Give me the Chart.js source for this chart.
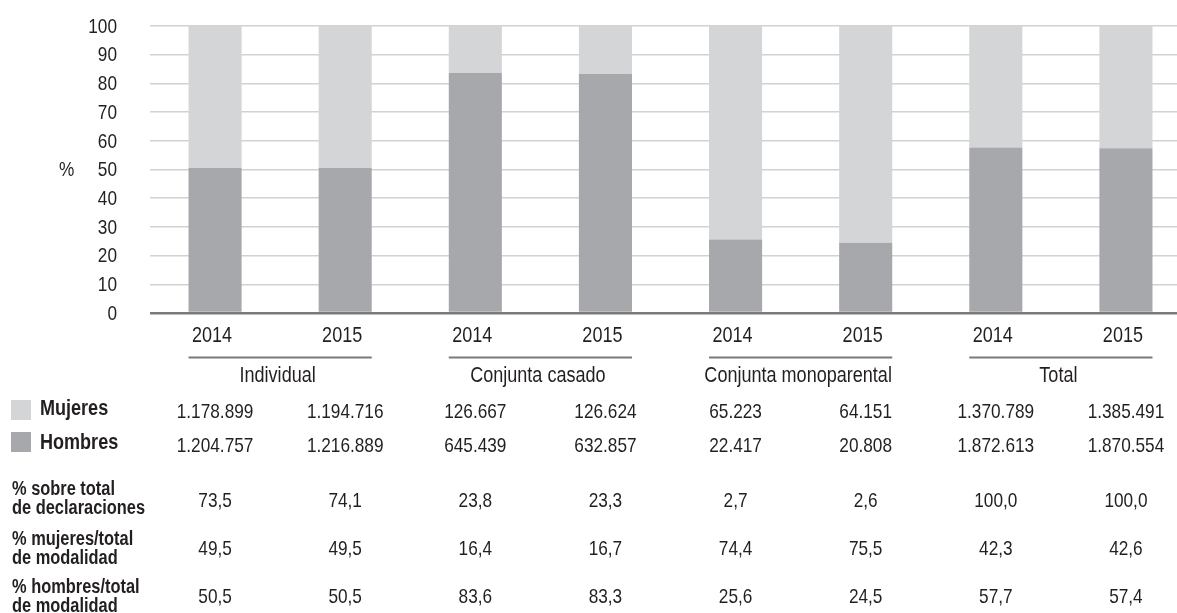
<!DOCTYPE html>
<html>
<head>
<meta charset="utf-8">
<script src="https://cdn.jsdelivr.net/npm/chart.js@4/dist/chart.umd.min.js"></script>
<style>
  html, body { margin: 0; padding: 0; background: #fff; overflow: hidden; }
  #wrap { position: relative; width: 1191px; height: 613px; }
</style>
</head>
<body>
<div id="wrap"><canvas id="c"></canvas></div>
<script>
// ---- data ----
const yearLabels = ["2014", "2015", "2014", "2015", "2014", "2015", "2014", "2015"];
const groupLabels = ["Individual", "Conjunta casado", "Conjunta monoparental", "Total"];
const pctHombres = [50.5, 50.5, 83.6, 83.3, 25.6, 24.5, 57.7, 57.4];
const pctMujeres = [49.5, 49.5, 16.4, 16.7, 74.4, 75.5, 42.3, 42.6];
const declMujeres = [1178899, 1194716, 126667, 126624, 65223, 64151, 1370789, 1385491];
const declHombres = [1204757, 1216889, 645439, 632857, 22417, 20808, 1872613, 1870554];
const pctSobreTotal = [73.5, 74.1, 23.8, 23.3, 2.7, 2.6, 100.0, 100.0];
const yTicks = [0, 10, 20, 30, 40, 50, 60, 70, 80, 90, 100];

const FONT = '"Liberation Sans", Arial, sans-serif';
const SX = 0.82; // condensed look
const TXT = '#231f20';
const C_MUJ = '#d4d5d7';
const C_HOM = '#a7a8ab';

function fmtInt(n) {
  return String(n).replace(/\B(?=(\d{3})+(?!\d))/g, '.');
}
function fmtDec(n) {
  return n.toFixed(1).replace('.', ',');
}
function txt(ctx, s, x, y, font, align, baseline) {
  ctx.save();
  ctx.font = font;
  ctx.textAlign = align || 'left';
  ctx.textBaseline = baseline || 'alphabetic';
  ctx.translate(x, y);
  ctx.scale(SX, 1);
  ctx.fillText(s, 0, 0);
  ctx.restore();
}

const tablePlugin = {
  id: 'tablePlugin',
  afterDraw(chart) {
    const ctx = chart.ctx;
    const ys = chart.scales.y;
    const xs = chart.scales.x;
    const bars = chart.getDatasetMeta(0).data;
    ctx.save();
    ctx.fillStyle = TXT;

    // y tick labels (from the scale's ticks)
    ys.ticks.forEach(t => {
      txt(ctx, String(t.value), 117, ys.getPixelForValue(t.value) + 1, '21px ' + FONT, 'right', 'middle');
    });
    // y axis title
    txt(ctx, '%', 59, ys.getPixelForValue(50) + 1, '21px ' + FONT, 'left', 'middle');

    // x tick labels (from the scale)
    xs.ticks.forEach((t, i) => {
      txt(ctx, xs.getLabelForValue(t.value), xs.getPixelForTick(i) - 3, 341.5, '22px ' + FONT, 'center');
    });

    // group lines + labels
    for (let g = 0; g < groupLabels.length; g++) {
      const b1 = bars[2 * g], b2 = bars[2 * g + 1];
      const x1 = b1.x - b1.width / 2, x2 = b2.x + b2.width / 2;
      ctx.strokeStyle = '#7a7a7a';
      ctx.lineWidth = 2;
      ctx.beginPath();
      ctx.moveTo(x1, 357.5);
      ctx.lineTo(x2, 357.5);
      ctx.stroke();
      txt(ctx, groupLabels[g], (x1 + x2) / 2 - 2.5, 382, '22px ' + FONT, 'center');
    }

    // legend squares and labels
    ctx.fillStyle = C_MUJ;
    ctx.fillRect(11, 400, 20, 20);
    ctx.fillStyle = C_HOM;
    ctx.fillRect(11, 432, 20, 20);
    ctx.fillStyle = TXT;
    txt(ctx, 'Mujeres', 40, 415, 'bold 22px ' + FONT);
    txt(ctx, 'Hombres', 40, 448.5, 'bold 22px ' + FONT);

    const rowLabels = [
      ['% sobre total', 'de declaraciones', 495],
      ['% mujeres/total', 'de modalidad', 545],
      ['% hombres/total', 'de modalidad', 593]
    ];
    rowLabels.forEach(r => {
      txt(ctx, r[0], 12, r[2], 'bold 20px ' + FONT);
      txt(ctx, r[1], 12, r[2] + 18.5, 'bold 20px ' + FONT);
    });

    // values
    const vf = '21px ' + FONT;
    for (let i = 0; i < bars.length; i++) {
      const cx = bars[i].x;
      txt(ctx, fmtInt(declMujeres[i]), cx, 417.5, vf, 'center');
      txt(ctx, fmtInt(declHombres[i]), cx, 452, vf, 'center');
      txt(ctx, fmtDec(pctSobreTotal[i]), cx, 506.5, vf, 'center');
      txt(ctx, fmtDec(pctMujeres[i]), cx, 555, vf, 'center');
      txt(ctx, fmtDec(pctHombres[i]), cx, 603, vf, 'center');
    }
    ctx.restore();
  }
};

new Chart(document.getElementById('c'), {
  type: 'bar',
  data: {
    labels: yearLabels,
    datasets: [
      { label: 'Hombres', data: pctHombres, backgroundColor: C_HOM, borderWidth: 0 },
      { label: 'Mujeres', data: pctMujeres, backgroundColor: C_MUJ, borderWidth: 0 }
    ]
  },
  options: {
    responsive: true,
    maintainAspectRatio: false,
    devicePixelRatio: 1,
    animation: false,
    events: [],
    layout: { padding: { top: 26, left: 0, right: 0, bottom: 0 } },
    datasets: { bar: { barPercentage: 0.408, categoryPercentage: 1.0 } },
    plugins: { legend: { display: false }, tooltip: { enabled: false } },
    scales: {
      x: {
        stacked: true,
        grid: { display: false, drawTicks: false },
        border: { display: false },
        ticks: { display: false, autoSkip: false },
        afterFit(scale) { scale.height = 300; }
      },
      y: {
        stacked: true,
        min: 0, max: 100,
        afterBuildTicks(scale) { scale.ticks = yTicks.map(v => ({ value: v })); },
        grid: {
          drawTicks: false,
          color: c => c.tick && c.tick.value === 0 ? '#7a7a7a' : '#d2d2d2',
          lineWidth: c => c.tick && c.tick.value === 0 ? 2.5 : 1.5
        },
        border: { display: false },
        ticks: { display: false, autoSkip: false },
        afterFit(scale) { scale.width = 150; }
      }
    }
  },
  plugins: [tablePlugin]
});
</script>
</body>
</html>
